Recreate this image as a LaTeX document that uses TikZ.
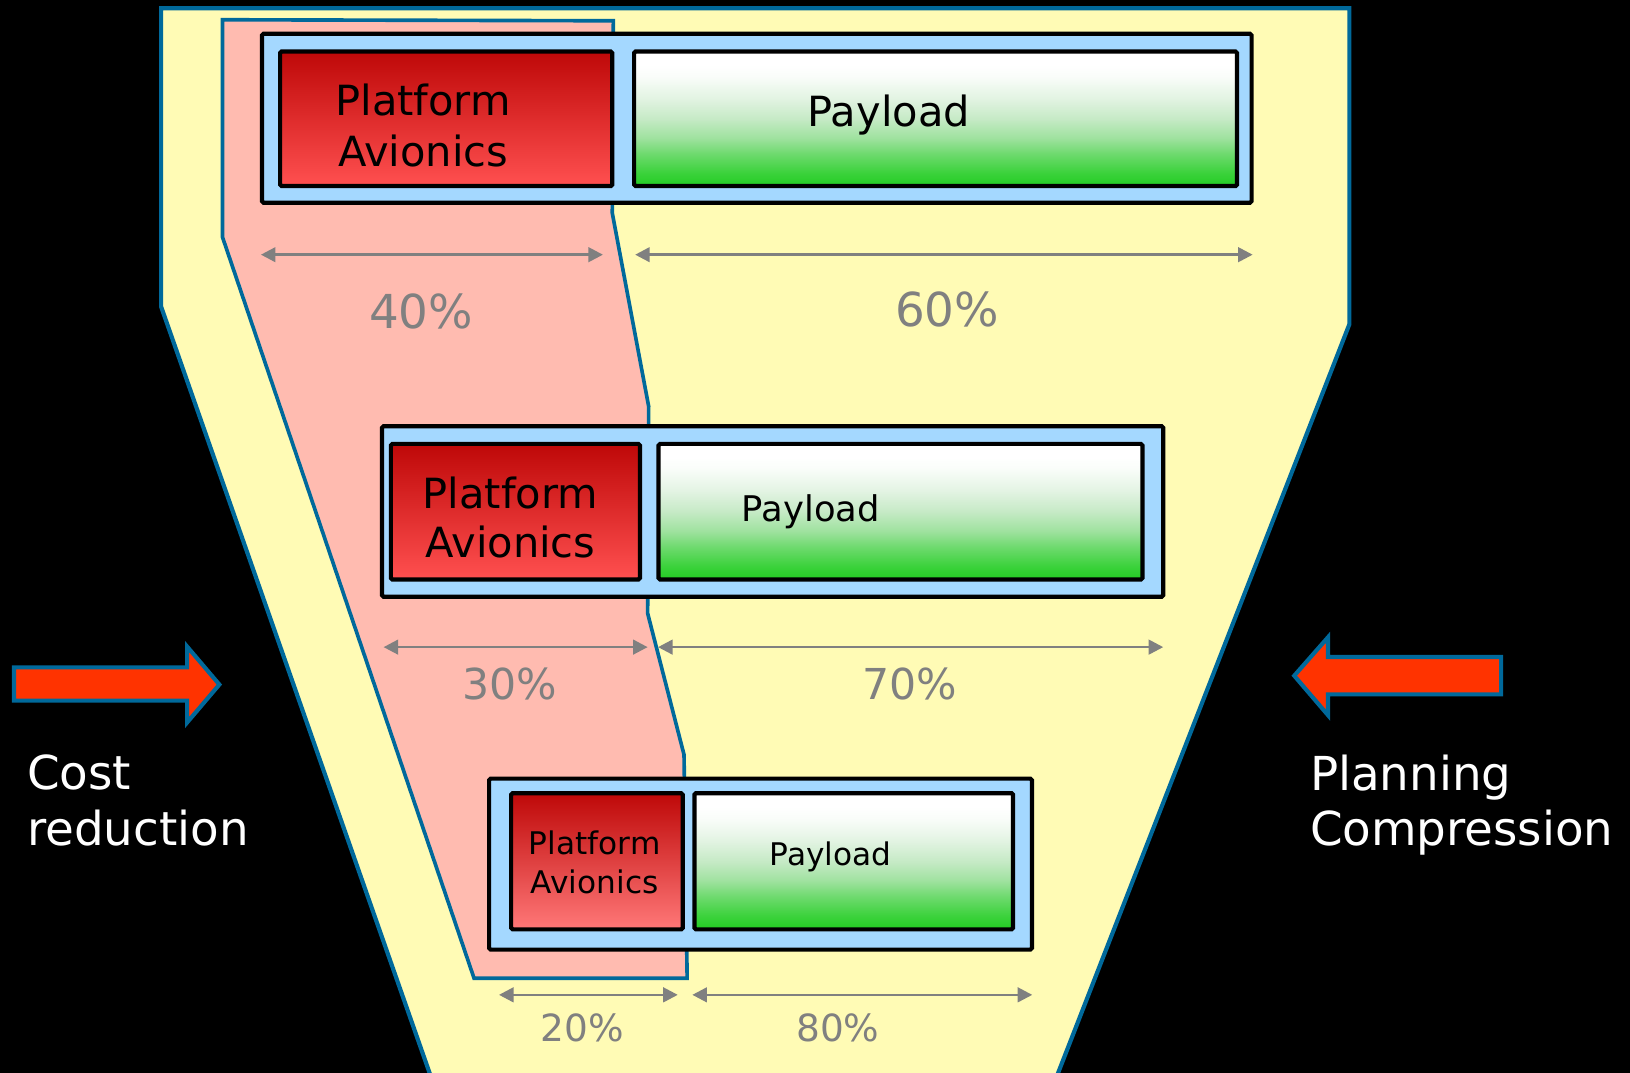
\documentclass[tikz,border=0pt]{standalone}
\usepackage{fontspec}
\setmainfont{DejaVu Sans}
\usetikzlibrary{arrows.meta}
\definecolor{funnelyellow}{RGB}{255,251,181}
\definecolor{pinkzone}{RGB}{255,187,176}
\definecolor{edgeblue}{RGB}{0,105,155}
\definecolor{boxblue}{RGB}{164,216,255}
\definecolor{redtop}{RGB}{190,8,8}
\definecolor{redbot}{RGB}{255,80,80}
\definecolor{redbotlight}{RGB}{255,120,120}
\definecolor{gA}{RGB}{34,204,34}
\definecolor{gB}{RGB}{60,210,60}
\definecolor{gC}{RGB}{110,218,110}
\definecolor{gD}{RGB}{160,226,160}
\definecolor{gE}{RGB}{198,234,198}
\definecolor{gF}{RGB}{228,244,228}
\definecolor{gG}{RGB}{250,253,250}
\definecolor{arrowred}{RGB}{255,51,0}
\definecolor{dimgray}{RGB}{128,128,128}
\pgfdeclareverticalshading{payloadshade}{100bp}{color(0bp)=(gA); color(25bp)=(gA); color(30bp)=(gB); color(37bp)=(gC); color(43bp)=(gD); color(50bp)=(gE); color(58bp)=(gF); color(66bp)=(gG); color(70bp)=(white); color(100bp)=(white)}
\begin{document}
\begin{tikzpicture}[x=1pt,y=-1pt,
  funnel/.style={fill=funnelyellow,draw=edgeblue,line width=4pt,line join=miter},
  pinkpoly/.style={fill=pinkzone,draw=edgeblue,line width=3.5pt,line join=miter},
  outerbox/.style={draw=black,fill=boxblue,line width=4pt,rounded corners=1.5pt,inner sep=0pt,outer sep=0pt},
  redbox/.style={draw=black,line width=4pt,rounded corners=1.5pt,inner sep=0pt,outer sep=0pt,top color=redtop,bottom color=redbot},
  greenbox/.style={draw=black,line width=4pt,rounded corners=1.5pt,inner sep=0pt,outer sep=0pt,shading=payloadshade},
  bigarrow/.style={fill=arrowred,draw=edgeblue,line width=4pt,line join=miter},
  dimarrow/.style={draw=dimgray,line width=2.5pt,{Triangle[length=14pt,width=14pt]}-{Triangle[length=14pt,width=14pt]}},
  boxtext/.style={text=black,inner sep=0pt,align=center},
  pcttext/.style={text=dimgray,inner sep=0pt,anchor=base},
  sidetext/.style={text=white,inner sep=0pt,align=left,anchor=west}
]
\useasboundingbox (0,0) rectangle (1568,1032);
\fill[black] (0,0) rectangle (1568,1032);
\begin{scope}
\clip (0,0) rectangle (1568,1032);
% funnel
\draw[funnel] (155,8) -- (1298,8) -- (1298,312) -- (1007,1060) -- (423,1060) -- (155,295) -- cycle;
% pink zone
\draw[pinkpoly] (214,19) -- (590,20) -- (589,205) -- (624,391) -- (623,590) -- (658,726) -- (661,941) -- (456,941) -- (214,228) -- cycle;
\end{scope}

% dimension arrows
\coordinate (d1a) at (251,245); \coordinate (d1b) at (580,245);
\coordinate (d1c) at (611,245); \coordinate (d1d) at (1205,245);
\coordinate (d2a) at (369,622.5); \coordinate (d2b) at (623,622.5);
\coordinate (d2c) at (633,622.5); \coordinate (d2d) at (1119,622.5);
\coordinate (d3a) at (480,957); \coordinate (d3b) at (652,957);
\coordinate (d3c) at (666,957); \coordinate (d3d) at (993,957);
\draw[dimarrow] (d1a) -- (d1b);
\draw[dimarrow] (d1c) -- (d1d);
\draw[dimarrow] (d2a) -- (d2b);
\draw[dimarrow] (d2c) -- (d2d);
\draw[dimarrow] (d3a) -- (d3b);
\draw[dimarrow] (d3c) -- (d3d);

% boxes row 1
\node[outerbox,minimum width=952pt,minimum height=162.5pt] (b1) at (728,113.75) {};
\node[redbox,minimum width=319.5pt,minimum height=129.5pt] (r1) at (429.25,114.25) {};
\node[greenbox,minimum width=580pt,minimum height=129.5pt] (g1) at (900,114.25) {};
% boxes row 2
\node[outerbox,minimum width=751.5pt,minimum height=164pt] (b2) at (743.25,492) {};
\node[redbox,minimum width=239.6pt,minimum height=130.5pt] (r2) at (495.8,492.25) {};
\node[greenbox,minimum width=465.5pt,minimum height=130.5pt] (g2) at (866.25,492.25) {};
% boxes row 3
\node[outerbox,minimum width=522.2pt,minimum height=164.5pt] (b3) at (731.6,831.25) {};
\node[redbox,bottom color=redbotlight,minimum width=165.1pt,minimum height=131pt] (r3) at (574.25,828.5) {};
\node[greenbox,minimum width=306.5pt,minimum height=131pt] (g3) at (821.25,828.5) {};

% box texts
\node[boxtext,font=\fontsize{40}{49}\selectfont] (pa1) at (407,120.3) {Platform\\Avionics};
\node[boxtext,font=\fontsize{40}{48}\selectfont] (pa2) at (491,497.8) {Platform\\Avionics};
\node[boxtext,font=\fontsize{30}{37.5}\selectfont] (pa3) at (572,830) {Platform\\Avionics};
\node[boxtext,anchor=base,font=\fontsize{40}{48}\selectfont] (pl1) at (855,122) {Payload};
\node[boxtext,anchor=base,font=\fontsize{34}{40}\selectfont] (pl2) at (780,502) {Payload};
\node[boxtext,anchor=base,font=\fontsize{30}{36}\selectfont] (pl3) at (799,833) {Payload};

% percentages
\node[pcttext,font=\fontsize{45}{54}\selectfont] (p40) at (405,316) {40\%};
\node[pcttext,font=\fontsize{45}{54}\selectfont] (p60) at (911,314.5) {60\%};
\node[pcttext,font=\fontsize{41}{49}\selectfont] (p30) at (490,673) {30\%};
\node[pcttext,font=\fontsize{41}{49}\selectfont] (p70) at (875,673) {70\%};
\node[pcttext,font=\fontsize{36}{43}\selectfont] (p20) at (560,1002) {20\%};
\node[pcttext,font=\fontsize{36}{43}\selectfont] (p80) at (806,1002) {80\%};

% big arrows
\draw[bigarrow] (13.5,642) -- (180,642) -- (180,622) -- (211,658.5) -- (180,695) -- (180,674) -- (13.5,674) -- cycle;
\draw[bigarrow] (1444,632) -- (1277.5,632) -- (1277.5,613) -- (1245,650) -- (1277.5,688) -- (1277.5,668) -- (1444,668) -- cycle;

% side texts
\node[sidetext,font=\fontsize{45}{53}\selectfont] (cost) at (26,770) {Cost\\reduction};
\node[sidetext,font=\fontsize{45}{53}\selectfont] (plan) at (1260,774.7) {Planning\\Compression};
\end{tikzpicture}
\end{document}
